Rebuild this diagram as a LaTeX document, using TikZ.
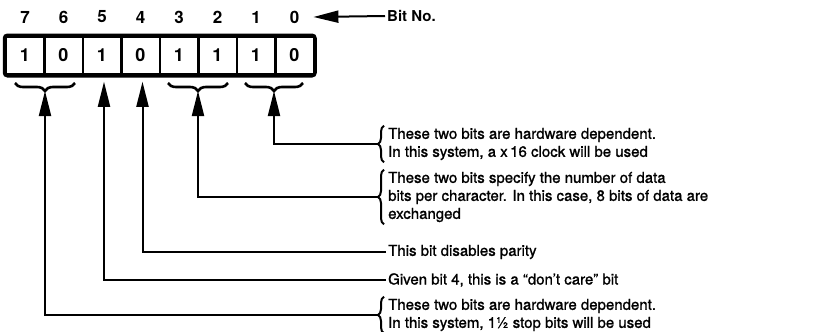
\documentclass[tikz,border=0pt]{standalone}
\usepackage{fontspec}
\setmainfont{TeX Gyre Heros}
\newfontfamily\notefont{TeX Gyre Heros}[Ligatures=TeX, FakeBold=1.2]
\usetikzlibrary{positioning,arrows.meta,decorations.pathreplacing}

\begin{document}
\begin{tikzpicture}[x=1pt, y=-1pt,
    cell/.style={draw=black, line width=2.5pt, minimum width=38.5pt, minimum height=38pt, inner sep=0pt, font=\fontsize{18}{18}\selectfont\bfseries},
    num/.style={inner sep=2pt, font=\fontsize{17}{17}\selectfont\bfseries},
    note/.style={anchor=west, align=left, inner sep=2pt, font=\fontsize{15}{18}\selectfont\notefont},
    pointer/.style={draw=black, line width=2pt, -{Triangle[length=25pt,width=12pt]}},
    curly/.style={draw=black, line width=2.6pt, decorate, decoration={brace, amplitude=8pt, mirror}},
    side/.style={draw=black, line width=2pt, decorate, decoration={brace, amplitude=6pt}}
]
    \useasboundingbox (0,0) rectangle (817,332);
    % register, bit 7 at the left
    \foreach \b/\v [count=\i from 0] in {7/1,6/0,5/1,4/0,3/1,2/1,1/1,0/0} {
        \node (Cell\b) [cell] at (25+38.5*\i, 55.5) {\v};
        \node (Num\b) [num] at (25+38.5*\i, 17) {\b};
    }
    \draw[line width=3.5pt, rounded corners=3pt] (Cell7.north west) rectangle (Cell0.south east);
    \node (BitNo) [note, font=\fontsize{15}{18}\selectfont\bfseries] at (385,16) {Bit No.};
    \draw[pointer] (BitNo.west) -- ([xshift=12pt]Num0.east);

    % braces below the register
    \draw[curly] (15,83) -- (75,83);
    \draw[curly] (168,83) -- (228,83);
    \draw[curly] (245,83) -- (303,83);
    \coordinate (Tip76) at (45,91);
    \coordinate (Tip32) at (198,91);
    \coordinate (Tip10) at (274,91);

    % notes on the right
    \node (Note10) [note] at (386,144) {These two bits are hardware dependent.\\In this system, a x\,16 clock will be used};
    \node (Note32) [note] at (386,197) {These two bits specify the number of data\\bits per character. In this case, 8 bits of data are\\exchanged};
    \node (Note4) [note] at (386,252) {This bit disables parity};
    \node (Note5) [note] at (386,280) {Given bit 4, this is a ``don't care'' bit};
    \node (Note76) [note] at (386,315) {These two bits are hardware dependent.\\In this system, 1½ stop bits will be used};
    \draw[side] ([xshift=-2pt]Note10.south west) -- ([xshift=-2pt]Note10.north west);
    \draw[side] ([xshift=-2pt]Note32.south west) -- ([xshift=-2pt]Note32.north west);
    \draw[side] ([xshift=-2pt]Note76.south west) -- ([xshift=-2pt]Note76.north west);

    \draw[pointer] ([xshift=-8pt]Note10.west) -| (Tip10);
    \draw[pointer] ([xshift=-8pt]Note32.west) -| (Tip32);
    \draw[pointer] (Note4.west) -| ([xshift=2pt, yshift=-6pt]Cell4.south);
    \draw[pointer] (Note5.west) -| ([xshift=2pt, yshift=-6pt]Cell5.south);
    \draw[pointer] ([xshift=-8pt]Note76.west) -| (Tip76);
\end{tikzpicture}
\end{document}
